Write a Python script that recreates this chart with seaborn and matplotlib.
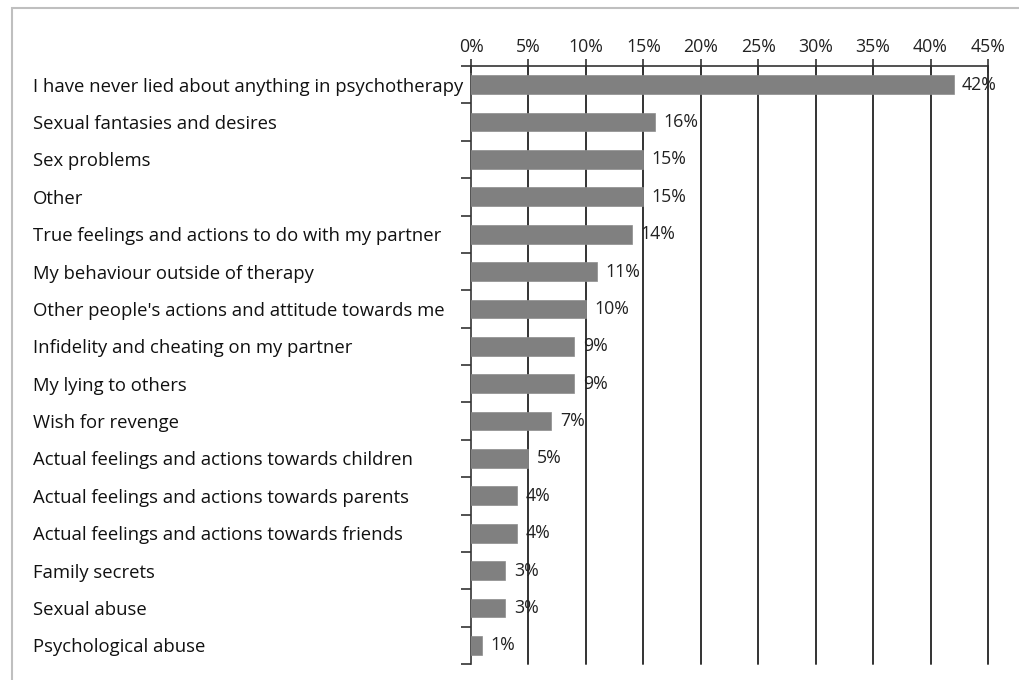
import matplotlib
matplotlib.use("Agg")
import matplotlib.pyplot as plt
import seaborn as sns
import pandas as pd
from matplotlib.patches import Rectangle
from matplotlib.ticker import FixedLocator

categories = [
    "I have never lied about anything in psychotherapy",
    "Sexual fantasies and desires",
    "Sex problems",
    "Other",
    "True feelings and actions to do with my partner",
    "My behaviour outside of therapy",
    "Other people's actions and attitude towards me",
    "Infidelity and cheating on my partner",
    "My lying to others",
    "Wish for revenge",
    "Actual feelings and actions towards children",
    "Actual feelings and actions towards parents",
    "Actual feelings and actions towards friends",
    "Family secrets",
    "Sexual abuse",
    "Psychological abuse",
]
shares = [42, 16, 15, 15, 14, 11, 10, 9, 9, 7, 5, 4, 4, 3, 3, 1]
x_ticks = [0, 5, 10, 15, 20, 25, 30, 35, 40, 45]

sns.set_theme(style="white")
plt.rcParams["font.family"] = ["Open Sans", "DejaVu Sans"]

df = pd.DataFrame({"category": categories, "share": shares})

fig = plt.figure(figsize=(10.19, 6.8), dpi=100)
ax = fig.add_axes([471 / 1019, 1 - 664 / 680, (988 - 471) / 1019, (664 - 66) / 680])

sns.barplot(data=df, x="share", y="category", orient="h", color="#808080",
            saturation=1, width=0.5, ax=ax, zorder=3)
for p in ax.patches:
    p.set_edgecolor("#8c8c8c")
    p.set_linewidth(0.5)

ax.set_xlim(0, 45)
ax.set_ylim(len(categories) - 0.5, -0.5)

# percentage axis along the top with crossing ticks
ax.xaxis.tick_top()
ax.set_xticks(x_ticks)
ax.set_xticklabels([f"{t}%" for t in x_ticks], fontsize=12.8, color="#222222")
ax.tick_params(axis="x", which="major", direction="inout", length=10,
               width=1.2, color="#333333", pad=2, bottom=False, top=True)
for t in x_ticks[1:]:
    ax.axvline(t, color="#333333", lw=1.4, zorder=1, clip_on=False)

# category labels left-aligned at the figure's left margin
ax.set_yticks(range(len(categories)))
ax.set_yticklabels(categories, fontsize=13.3, color="#111111", ha="left")
ax.tick_params(axis="y", which="major", length=0, pad=(471 - 33) * 0.72)
ax.yaxis.set_minor_locator(FixedLocator([i - 0.5 for i in range(len(categories) + 1)]))
ax.tick_params(axis="y", which="minor", direction="out", length=7,
               width=1.2, color="#333333", left=True)

ax.set_xlabel("")
ax.set_ylabel("")
for side in ["right", "bottom"]:
    ax.spines[side].set_visible(False)
for side in ["left", "top"]:
    ax.spines[side].set_color("#333333")
    ax.spines[side].set_linewidth(1.2)

labels = ax.bar_label(ax.containers[0], labels=[f"{v}%" for v in shares],
                      padding=6, fontsize=12.8, color="#222222")

# light frame around the chart area
fig.patches.append(Rectangle((11.5 / 1019, -0.1), 1.2, 1 - 8.5 / 680 + 0.1,
                             transform=fig.transFigure, fill=False,
                             edgecolor="#bfbfbf", lw=1.5))

fig.savefig("out.png", dpi=100, facecolor="white")
